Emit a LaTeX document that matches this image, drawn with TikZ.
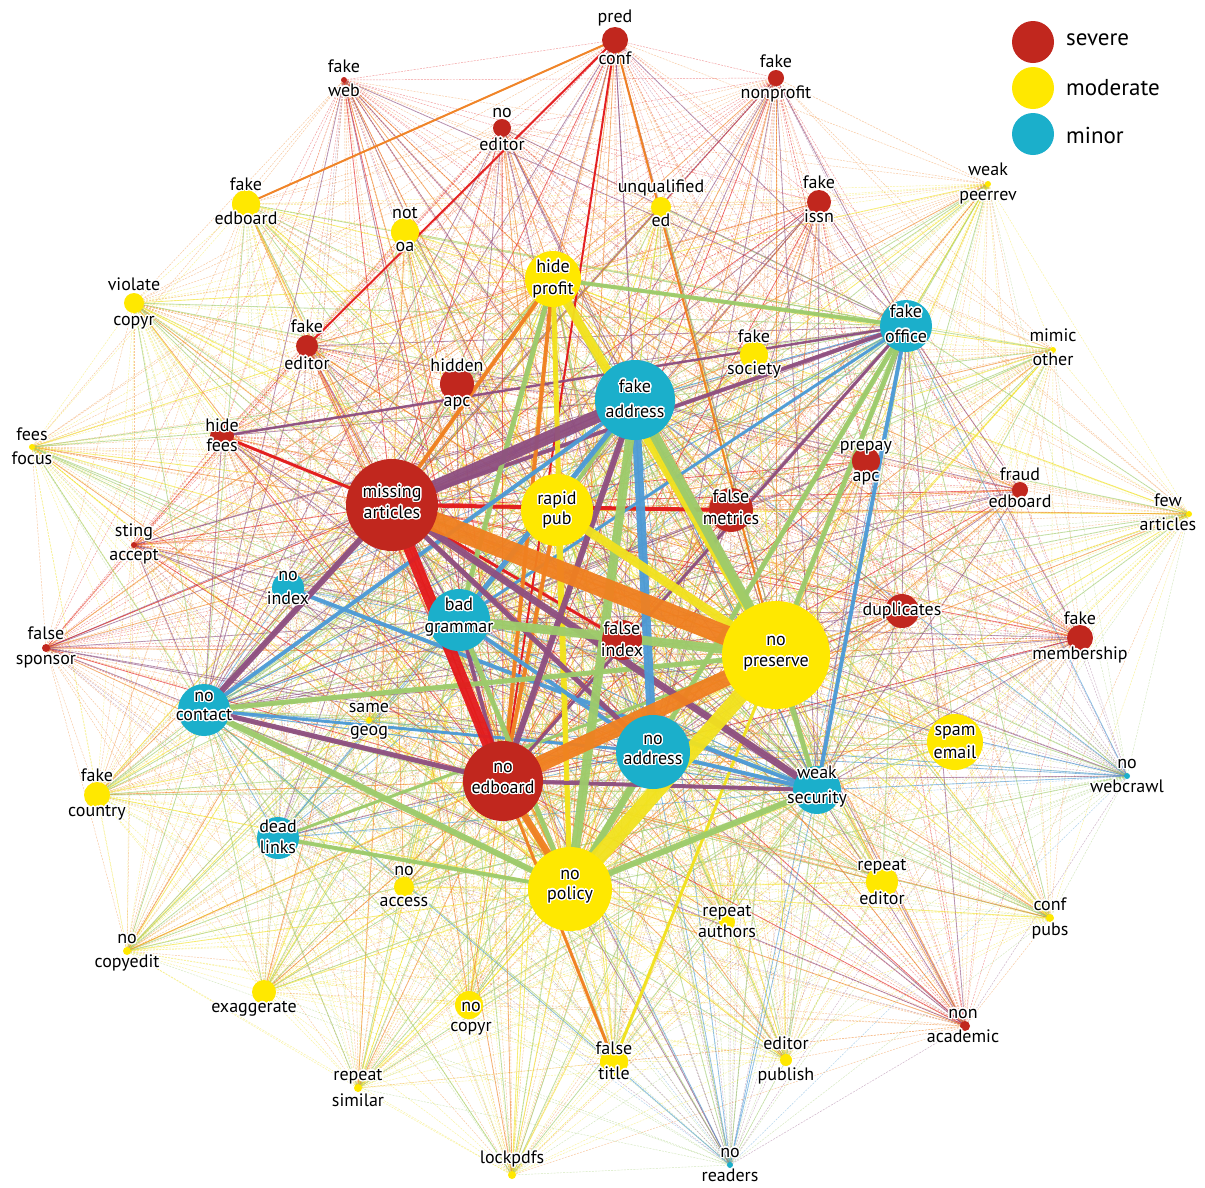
\documentclass[tikz,border=0pt]{standalone}
\usepackage{fontspec}
\setmainfont{PT Sans}
\usepackage{contour}
\contourlength{1.3pt}
\contournumber{20}
\definecolor{nc1}{HTML}{C1271E}
\definecolor{nc2}{HTML}{FFE800}
\definecolor{nc4}{HTML}{1BAFCB}
\definecolor{ec2}{HTML}{E31A1C}
\definecolor{ec3}{HTML}{F08020}
\definecolor{ec4}{HTML}{F2E21E}
\definecolor{ec5}{HTML}{8E4F80}
\definecolor{ec6}{HTML}{9DCB6B}
\definecolor{ec8}{HTML}{4D9BD6}
\def\catlist{{1,1,1,1,2,2,2,1,2,2, 2,4,2,1,2,1,4,2,1,1, 1,1,2,1,2,1,4,1,4,1, 2,1,1,4,2,2,4,4,1,4, 2,4,2,2,2,2,2,2,2,2, 1,2,2,2,2,4}}
\begin{document}
\begin{tikzpicture}[x=1pt,y=-1pt,
  thinedge/.style={line width=0.45pt, dash pattern=on 2pt off 1.2pt, opacity=0.45},
  midedge/.style={line width=0.85pt, opacity=0.5},
  bigedge/.style={opacity=0.95},
  dot/.style={circle, inner sep=0pt, draw=none},
  lbl/.style={font=\fontsize{18}{20}\selectfont, text height=12.5pt, text depth=4pt, inner sep=0pt},
  leg/.style={font=\fontsize{23}{26}\selectfont, anchor=west, inner sep=0pt}]
\useasboundingbox (0,0) rectangle (1205,1187);
\fill[white] (0,0) rectangle (1205,1187);
\def\nodedata{
1/615/40/13/1/615/18/60/pred/conf,
2/344/80/3/1/344/68/92/fake/web,
3/776/78/8/1/776/63/94/fake/nonprofit,
4/502/128/9/1/502/113/146/no/editor,
5/988/184/3/2/988/171/196/weak/peerrev,
6/246/204/14/2/246/186/220/fake/edboard,
7/661/207/10/2/661/188/222/unqualified/ed,
8/819/202/12/1/819/184/218/fake/issn,
9/405/232/14/2/405/214/247/not/oa,
10/553/279/28/2/553/268/290/hide/profit,
11/134/303/10/2/134/286/321/violate/copyr,
12/906/326/26/4/906/313/338/fake/office,
13/1053/350/3/2/1053/337/361/mimic/other,
14/307/346/11/1/307/328/365/fake/editor,
15/754/355/14/2/754/338/370/fake/society,
16/457/384/17/1/457/367/402/hidden/apc,
17/635/400/40/4/635/388/413/fake/address,
18/32/447/3/2/32/436/460/fees/focus,
19/222/436/12/1/222/427/447/hide/fees,
20/866/461/14/1/866/446/477/prepay/apc,
21/1020/490/8/1/1020/476/503/fraud/edboard,
22/392/505/46/1/392/493/514/missing/articles,
23/557/510/36/2/557/500/520/rapid/pub,
24/731/510/22/1/731/498/520/false/metrics,
25/1189/514/3/2/1168/502/526/few/articles,
26/134/545/3/1/134/532/556/sting/accept,
27/288/588/16/4/288/576/600/no/index,
28/902/611/17/1/902/611/611/duplicates/,
29/459/620/31/4/459/606/628/bad/grammar,
30/622/640/20/1/622/630/652/false/index,
31/776/655/54/2/776/641/662/no/preserve,
32/46/648/4/1/46/635/660/false/sponsor,
33/1080/638/13/1/1080/620/655/fake/membership,
34/204/710/26/4/204/697/716/no/contact,
35/369/720/3/2/369/708/731/same/geog,
36/955/742/28/2/955/731/754/spam/email,
37/653/752/37/4/653/740/760/no/address,
38/1127/776/3/4/1127/764/788/no/webcrawl,
39/503/781/40/1/503/768/789/no/edboard,
40/817/790/24/4/817/774/799/weak/security,
41/97/795/13/2/97/777/812/fake/country,
42/278/838/21/4/278/828/849/dead/links,
43/404/887/10/2/404/871/902/no/access,
44/570/889/42/2/570/875/895/no/policy,
45/882/882/16/2/882/866/900/repeat/editor,
46/727/922/8/2/727/912/933/repeat/authors,
47/1050/918/4/2/1050/906/931/conf/pubs,
48/127/951/4/2/127/939/963/no/copyedit,
49/264/992/12/2/254/1008/1008/exaggerate/,
50/469/1005/14/2/471/1007/1027/no/copyr,
51/965/1026/5/1/963/1014/1038/non/academic,
52/614/1062/14/2/614/1050/1075/false/title,
53/786/1060/6/2/786/1045/1076/editor/publish,
54/358/1088/4/2/358/1076/1102/repeat/similar,
55/512/1175/4/2/512/1159/1159/lockpdfs/,
56/730/1165/3/4/730/1153/1177/no/readers}
% coordinates
\foreach \i/\x/\y/\r/\c/\lx/\ya/\yb/\la/\lb in \nodedata {
  \coordinate (n\i) at (\x,\y);
}
% fine web of all pairs
\foreach \i in {1,...,55}{
  \pgfmathtruncatemacro\jstart{\i+1}
  \foreach \j in {\jstart,...,56}{
    \pgfmathtruncatemacro\s{\catlist[\i-1]+\catlist[\j-1]}
    \draw[thinedge, draw=ec\s] (n\i) -- (n\j);
  }
}
% medium lines to the hubs
\foreach \k in {10,12,17,22,23,29,31,34,37,39,40,44}{
  \foreach \j in {1,...,56}{
    \ifnum\j=\k\relax\else
      \pgfmathtruncatemacro\s{\catlist[\k-1]+\catlist[\j-1]}
      \draw[midedge, draw=ec\s] (n\k) -- (n\j);
    \fi
  }
}
% strong links
\foreach \a/\b/\w in {
  1/6/2, 1/14/2, 1/31/2, 1/39/2, 19/22/3, 19/12/2.5, 52/31/3, 52/39/3,
  22/24/4, 22/30/3, 34/37/3, 27/40/4, 42/31/3, 44/42/4, 12/29/3, 12/39/3,
  12/22/4, 10/12/4, 12/44/5, 12/31/5, 40/12/4, 10/22/4, 10/29/5, 10/39/4,
  10/44/5, 23/17/4, 23/39/4, 23/44/4, 17/34/4, 29/17/5, 29/39/4, 29/44/5,
  37/29/4, 37/40/4, 37/44/7, 22/37/5, 39/40/4, 34/39/5, 34/31/5, 34/44/6,
  40/31/5, 40/44/6, 22/34/6, 22/40/7, 17/39/6, 39/44/7, 17/37/9, 17/44/9,
  10/31/9, 23/31/9, 29/31/9, 17/31/10, 22/17/13, 44/31/16, 39/31/16,
  22/31/20, 22/39/12}{
  \pgfmathtruncatemacro\s{\catlist[\a-1]+\catlist[\b-1]}
  \draw[bigedge, line width=\w pt, draw=ec\s] (n\a) -- (n\b);
}
% nodes and labels
\foreach \i/\x/\y/\r/\c/\lx/\ya/\yb/\la/\lb in \nodedata {
  \node[dot, fill=nc\c, minimum size=2*\r pt] (d\i) at (n\i) {};
}
\foreach \i/\x/\y/\r/\c/\lx/\ya/\yb/\la/\lb in \nodedata {
  \node[lbl] (ta\i) at (\lx,\ya) {\contour{white}{\la}};
  \node[lbl] (tb\i) at (\lx,\yb) {\contour{white}{\lb}};
}
% legend
\node[dot, fill=nc1, minimum size=42pt] (l1) at (1033,42) {};
\node[dot, fill=nc2, minimum size=42pt] (l2) at (1033,88) {};
\node[dot, fill=nc4, minimum size=42pt] (l3) at (1033,134) {};
\node[leg] (lt1) at (1066,40) {severe};
\node[leg] (lt2) at (1066,88) {moderate};
\node[leg] (lt3) at (1066,135) {minor};
\end{tikzpicture}
\end{document}
